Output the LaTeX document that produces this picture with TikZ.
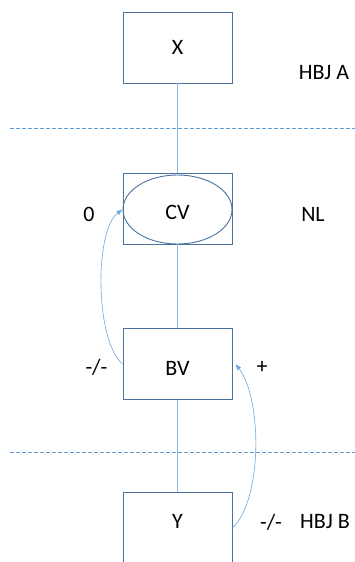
\documentclass[tikz,border=0pt]{standalone}
\usepackage{fontspec}
\setmainfont{Carlito}
\usetikzlibrary{shapes.geometric,arrows.meta}
\definecolor{boxblue}{HTML}{4A73A0}
\definecolor{linkblue}{HTML}{8DB8E2}
\definecolor{dashblue}{HTML}{5B9BD5}
\definecolor{arcblue}{HTML}{6FA8DC}
\tikzset{
  levelbox/.style={draw=boxblue, line width=0.9pt, rectangle, minimum width=109pt, minimum height=71pt, inner sep=0pt},
  levelell/.style={draw=boxblue, line width=0.9pt, ellipse, minimum width=109pt, minimum height=69pt, inner sep=0pt},
  link/.style={draw=linkblue, line width=1pt},
  border/.style={dashblue, dashed, dash pattern=on 4pt off 2pt, line width=0.7pt},
  effect/.style={arcblue, line width=0.6pt, -{Latex[length=6pt,width=5pt]}},
  txt/.style={font=\fontsize{22}{26}\selectfont, inner sep=0pt}
}
\begin{document}
\begin{tikzpicture}[x=1pt, y=-1pt]
\clip (0,0) rectangle (355,562);
\fill [white] (0,0) rectangle (355,562);
% boxes
\node [levelbox] (x) at (177.5,47.5) {};
\node [levelbox] (cvbox) at (177.5,208.5) {};
\node [levelell] (cv) at (177.5,209.5) {};
\node [levelbox] (bv) at (177.5,364) {};
\node [levelbox] (y) at (177.5,528) {};
% texts
\node [txt] (xlab) at (177.5,47) {X};
\node [txt] (cvlab) at (177.5,212) {CV};
\node [txt] (bvlab) at (177.5,368) {BV};
\node [txt] (ylab) at (177.5,521) {Y};
\node [txt] (hbja) at (324,73) {HBJ A};
\node [txt] (nl) at (313,214) {NL};
\node [txt] (hbjb) at (325,522) {HBJ B};
\node [txt] (zero) at (89,214) {0};
\node [txt] (minl) at (96.5,367) {-/-};
\node [txt] (plus) at (262,367) {+};
\node [txt] (minr) at (271,522) {-/-};
% links
\draw [link] (x.south) -- (cvbox.north);
\draw [link] (cvbox.south) -- (bv.north);
\draw [link] (bv.south) -- (y.north);
% levels
\draw [border] (10,128) -- (355,128);
\draw [border] (10,452) -- (355,452);
% effects
\draw [effect] (bv.west) .. controls +(-28,-24) and +(-28,20) .. (cv.west);
\draw [effect] (y.east) .. controls +(30,-28) and +(27,35) .. ([xshift=3pt]bv.east);
\end{tikzpicture}
\end{document}
